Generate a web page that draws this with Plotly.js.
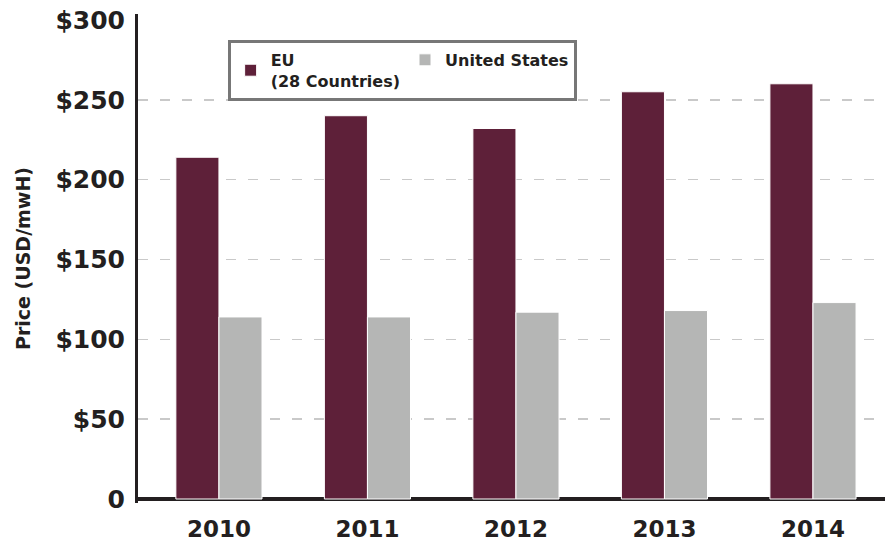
<!DOCTYPE html>
<html>
<head>
<meta charset="utf-8">
<script src="https://cdn.plot.ly/plotly-3.0.1.min.js"></script>
<style>html,body{margin:0;padding:0;background:#fff;}#chart{width:885px;height:543px;}</style>
</head>
<body>
<div id="chart"></div>
<script>
const years = ['2010', '2011', '2012', '2013', '2014'];
const euPrices = [214, 240, 232, 255, 260];
const usPrices = [114, 114, 117, 118, 123];
const yTickVals = [0, 50, 100, 150, 200, 250, 300];
const yTickText = ['0', '$50', '$100', '$150', '$200', '$250', '$300'];
const gridVals = [50, 100, 150, 200, 250];
const seriesNames = ['EU<br>(28 Countries)', 'United States'];

const font = "'DejaVu Sans', 'Open Sans', sans-serif";
const ink = '#231f20';
const traces = [
  {type: 'bar', name: seriesNames[0], x: years, y: euPrices,
   marker: {color: '#5e2039', line: {color: '#ffffff', width: 1}}},
  {type: 'bar', name: seriesNames[1], x: years, y: usPrices,
   marker: {color: '#b5b6b5', line: {color: '#ffffff', width: 1}}},
  // invisible helper so the gridline-only overlay axis is drawn
  {type: 'scatter', mode: 'none', x: years, y: usPrices, yaxis: 'y2',
   showlegend: false, hoverinfo: 'skip'}
];
const yRange = [-2.5, 303.7];
const layout = {
  width: 885, height: 543,
  margin: {l: 138, r: 0, t: 14, b: 40},
  paper_bgcolor: '#fff', plot_bgcolor: '#fff',
  barmode: 'group', bargap: 0.42, bargroupgap: 0,
  font: {family: font, color: ink},
  showlegend: true,
  legend: {orientation: 'h', x: 0.12, y: 0.947, xanchor: 'left', yanchor: 'top',
    bgcolor: '#fff', bordercolor: '#777', borderwidth: 3,
    font: {family: font, size: 16, color: ink, weight: 'bold'},
    traceorder: 'normal'},
  xaxis: {type: 'category', range: [-0.545, 4.485], showgrid: false,
    showline: false, ticks: '', zeroline: false, ticklabelstandoff: 10,
    tickfont: {family: font, size: 23, color: ink, weight: 'bold'}},
  yaxis: {range: yRange, tickvals: yTickVals, ticktext: yTickText,
    showline: true, linecolor: ink, linewidth: 3,
    showgrid: false,
    zeroline: true, zerolinecolor: ink, zerolinewidth: 4,
    ticks: '', ticklabelstandoff: 5,
    tickfont: {family: font, size: 25, color: ink, weight: 'bold'},
    title: {text: 'Price (USD/mwH)', standoff: 20,
      font: {family: font, size: 19, color: ink, weight: 'bold'}}},
  yaxis2: {range: yRange, overlaying: 'y', tickvals: gridVals, showticklabels: false,
    showline: false, ticks: '', zeroline: false,
    showgrid: true, gridcolor: '#c9c9c9', gridwidth: 1.5, griddash: '10px,12px'}
};
Plotly.newPlot('chart', traces, layout, {displayModeBar: false, staticPlot: true});
</script>
</body>
</html>
